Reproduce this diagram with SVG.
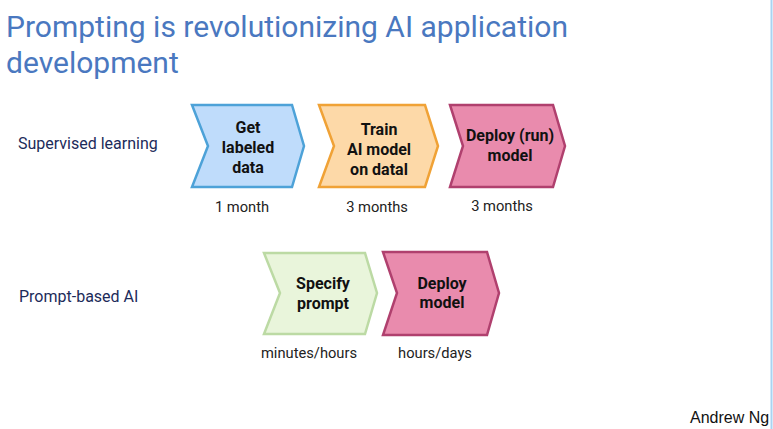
<svg xmlns="http://www.w3.org/2000/svg" width="773" height="429" viewBox="0 0 773 429">
<style>
.title{font-family:Roboto,"Liberation Sans",sans-serif;font-size:30px;fill:#4a78c0}
.row{font-family:Roboto,"Liberation Sans",sans-serif;font-size:16px;fill:#1c2b5a}
.lbl{font-family:Roboto,"Liberation Sans",sans-serif;font-size:16px;font-weight:bold;fill:#111;text-anchor:middle}
.dur{font-family:Roboto,"Liberation Sans",sans-serif;font-size:14.7px;fill:#222;text-anchor:middle}
.chev{stroke-width:2.5;stroke-linejoin:miter}
.blue{fill:#bfdcfb;stroke:#4da2d8}
.orange{fill:#fdd9a8;stroke:#f0a236}
.pink{fill:#e98bad;stroke:#b0406e}
.green{fill:#e9f5db;stroke:#bcdaa4}
</style>
<rect width="773" height="429" fill="#ffffff"/>
<line x1="771.5" y1="0" x2="771.5" y2="429" stroke="#a9d3f2" stroke-width="2"/>
<text class="title" x="6" y="37" textLength="562" lengthAdjust="spacingAndGlyphs">Prompting is revolutionizing AI application</text>
<text class="title" x="6" y="73">development</text>
<text class="row" x="18" y="149">Supervised learning</text>
<text class="row" x="19" y="302">Prompt-based AI</text>
<g id="connectors"></g>
<g id="get-data">
<polygon class="chev blue" points="192,105 292,105 304,146 292,187 192,187 208,146"/>
<text class="lbl" x="248" y="133">Get</text>
<text class="lbl" x="248" y="153">labeled</text>
<text class="lbl" x="248" y="173">data</text>
<text class="dur" x="242" y="212">1 month</text>
</g>
<g id="train">
<polygon class="chev orange" points="319,105 425,105 438,146 425,187 319,187 334,146"/>
<text class="lbl" x="379" y="135">Train</text>
<text class="lbl" x="379" y="155">AI model</text>
<text class="lbl" x="379" y="175">on datal</text>
<text class="dur" x="377" y="212">3 months</text>
</g>
<g id="deploy-run">
<polygon class="chev pink" points="450,105 553,105 565,146 553,187 450,187 463,146"/>
<text class="lbl" x="510" y="141">Deploy (run)</text>
<text class="lbl" x="510" y="161">model</text>
<text class="dur" x="502" y="211">3 months</text>
</g>
<g id="specify">
<polygon class="chev green" points="264,253 365,253 377,293 365,334 264,334 280,293"/>
<text class="lbl" x="323" y="289">Specify</text>
<text class="lbl" x="323" y="309">prompt</text>
<text class="dur" x="309" y="358">minutes/hours</text>
</g>
<g id="deploy">
<polygon class="chev pink" points="383,252 487,252 499,293 487,335 383,335 397,293"/>
<text class="lbl" x="442" y="289">Deploy</text>
<text class="lbl" x="442" y="308">model</text>
<text class="dur" x="435" y="358">hours/days</text>
</g>
<text x="690" y="423" font-family="'Liberation Sans',Arial,sans-serif" font-size="16" fill="#111">Andrew Ng</text>
</svg>
